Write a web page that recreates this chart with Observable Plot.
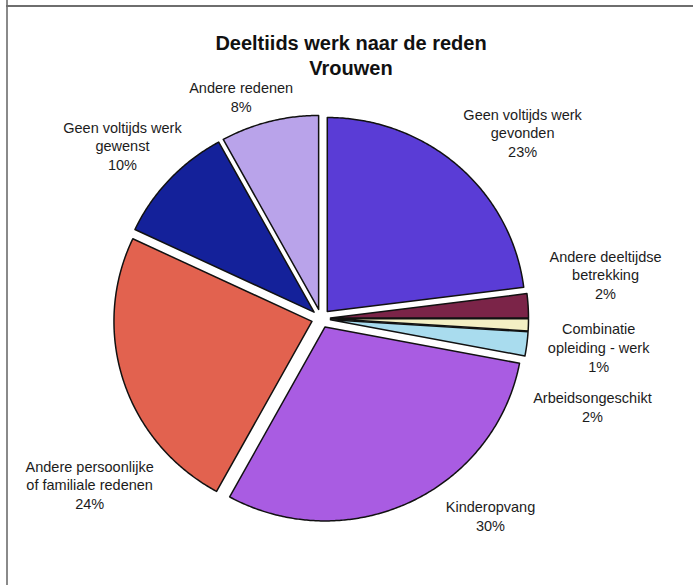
<!DOCTYPE html>
<html>
<head>
<meta charset="utf-8">
<script src="https://cdn.jsdelivr.net/npm/d3@7"></script>
<script src="https://cdn.jsdelivr.net/npm/@observablehq/plot@0.6"></script>
<style>
  html, body { margin: 0; padding: 0; background: #fff; }
  #wrap { position: relative; width: 693px; height: 585px; overflow: hidden; background: #fff; }
  #wrap svg { position: absolute; left: 0; top: 0; }
  .frame-left { position: absolute; left: 6px; top: 0; width: 2px; height: 585px; background: #8a8a8a; }
  .frame-top { position: absolute; left: 6px; top: 5px; width: 687px; height: 2px; background: #6e6e6e; }
  .title { position: absolute; left: 0; top: 31px; width: 684px; padding-left: 9px; text-align: center;
           font: bold 20px "Liberation Sans", Arial, sans-serif; line-height: 25px; color: #111; }
</style>
</head>
<body>
<div id="wrap">
  <div class="title">Deeltiids werk naar de reden<br>Vrouwen</div>
</div>
<script>
// ---- data ----
const categories = [
  "Geen voltijds werk\ngevonden",
  "Andere deeltijdse\nbetrekking",
  "Combinatie\nopleiding - werk",
  "Arbeidsongeschikt",
  "Kinderopvang",
  "Andere persoonlijke\nof familiale redenen",
  "Geen voltijds werk\ngewenst",
  "Andere redenen"
];
const values = [23, 2, 1, 2, 30, 24, 10, 8]; // percentages

// ---- styles ----
const sliceColors = ["#5a3cd6", "#7b2448", "#f3efc4", "#a9dcee", "#a95ce2", "#e2624f", "#14219a", "#b9a3ea"];

// ---- layout (label placement around the pie: angle clockwise from top, distance in radii) ----
const labelAngle = [46.7, 81.0, 96.0, 108.3, 139.9, 233.8, 311.7, 340.6];
const labelDist  = [1.399, 1.455, 1.410, 1.444, 1.329, 1.448, 1.343, 1.214];
const explode = 0.048;

// ---- build pie geometry in unit-radius coordinates ----
const total = d3.sum(values);
const toRad = Math.PI / 180;
const slicePts = [];
const labels = [];
let cum = 0;
categories.forEach((cat, i) => {
  const a0 = cum / total * 2 * Math.PI;
  cum += values[i];
  const a1 = cum / total * 2 * Math.PI;
  const mid = (a0 + a1) / 2;
  const ox = explode * Math.sin(mid), oy = explode * Math.cos(mid);
  slicePts.push({cat, x: ox, y: oy});
  const n = Math.max(2, Math.ceil((a1 - a0) / (0.5 * toRad)));
  for (let k = 0; k <= n; k++) {
    const t = a0 + (a1 - a0) * k / n;
    slicePts.push({cat, x: ox + Math.sin(t), y: oy + Math.cos(t)});
  }
  const la = labelAngle[i] * toRad;
  labels.push({cat, x: labelDist[i] * Math.sin(la), y: labelDist[i] * Math.cos(la), text: `${cat}\n${values[i]}%`});
});

const W = 693, H = 585;
const cx = 320.5, cy = 318, rx = 198, ry = 194;

const chart = Plot.plot({
  width: W,
  height: H,
  margin: 0,
  x: {domain: [-cx / rx, (W - cx) / rx], axis: null},
  y: {domain: [-(H - cy) / ry, cy / ry], axis: null},
  color: {domain: categories, range: sliceColors},
  style: {background: "transparent", fontFamily: "'Liberation Sans', Arial, sans-serif"},
  marks: [
    Plot.line(slicePts, {
      x: "x", y: "y", z: "cat", fill: "cat",
      stroke: "#111", strokeWidth: 1.5, strokeLinejoin: "round",
      curve: "linear-closed"
    }),
    Plot.text(labels, {
      x: "x", y: "y", text: "text",
      fontSize: 14.5, lineHeight: 1.28, fill: "#1c1c1c", textAnchor: "middle"
    })
  ]
});

const wrap = document.getElementById("wrap");
wrap.insertBefore(chart, wrap.firstChild);
const fl = document.createElement("div"); fl.className = "frame-left"; wrap.appendChild(fl);
const ft = document.createElement("div"); ft.className = "frame-top"; wrap.appendChild(ft);
</script>
</body>
</html>
